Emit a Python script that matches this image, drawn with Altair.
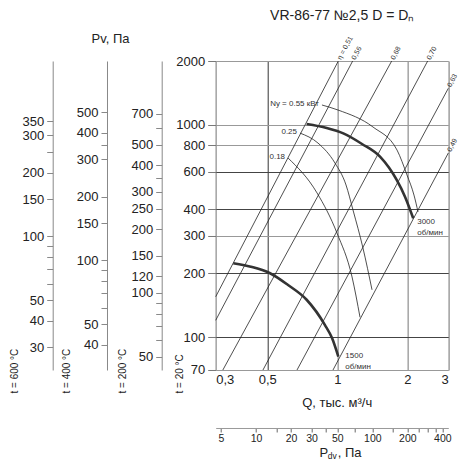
import altair as alt
import pandas as pd

# ---------------- data ----------------
q_ticks = [0.3, 0.5, 1, 2, 3]
p_ticks = [70, 100, 200, 300, 400, 600, 800, 1000, 2000]
pdv_ticks = [5, 10, 15, 20, 30, 40, 50, 70, 100, 150, 200, 250, 300, 350, 400]
pdv_labels = [5, 10, 20, 30, 50, 100, 200, 400]

t200_ticks = [50, 60, 70, 80, 90, 100, 120, 150, 200, 250, 300, 350, 400, 500, 600, 700]
t200_labels = [50, 100, 120, 150, 200, 250, 300, 400, 500, 700]
t400_ticks = [40, 50, 60, 70, 80, 90, 100, 150, 200, 300, 350, 400, 500]
t400_labels = [40, 50, 100, 150, 200, 300, 400, 500]
t600_ticks = [30, 40, 50, 60, 70, 80, 90, 100, 150, 200, 250, 300, 350]
t600_labels = [30, 40, 50, 100, 150, 200, 300, 350]

# constant-efficiency lines (start / end points)
eta_names = ["η = 0,51", "0,56", "0,68", "0,70", "0,63", "0,49"]
eta_q0 = [0.30, 0.30, 0.322, 0.479, 0.671, 0.958]
eta_p0 = [155, 120, 70, 70, 70, 70]
eta_q1 = [1.01, 1.164, 1.713, 2.446, 3.0, 3.0]
eta_p1 = [2000, 2000, 2000, 2000, 1487, 737]

# fan curves
q3000 = [0.738, 0.90, 1.061, 1.277, 1.526, 1.80, 1.954, 2.12]
p3000 = [1010, 967, 912, 813, 708, 550, 459, 363]
q1500 = [0.357, 0.43, 0.514, 0.614, 0.738, 0.885, 0.949, 1.01]
p1500 = [223, 214, 200, 176, 150, 114, 99, 81]

# power arcs
arc055_q = [0.859, 1.007, 1.424, 1.806, 1.993, 2.136, 2.223]
arc055_p = [1241, 1175, 977, 761, 581, 467, 389]
arc025_q = [0.691, 0.826, 0.977, 1.09, 1.168, 1.289, 1.41]
arc025_p = [915, 821, 661, 521, 397, 263, 167]
arc018_q = [0.614, 0.818, 0.997, 1.157, 1.252]
arc018_p = [698, 478, 309, 192, 124]
arc_names = ["Nу = 0.55 кВт", "0.25", "0.18"]

FONT = "Liberation Sans"
INK = "#222"

# ---------------- tables ----------------
eta_rows = []
for i, n in enumerate(eta_names):
    eta_rows.append({"id": i, "q": eta_q0[i], "p": eta_p0[i]})
    eta_rows.append({"id": i, "q": eta_q1[i], "p": eta_p1[i]})
eta_df = pd.DataFrame(eta_rows)
eta_lab = pd.DataFrame({"q": eta_q1, "p": eta_p1, "label": eta_names})

arc_rows = []
for i, (qs, ps) in enumerate([(arc055_q, arc055_p), (arc025_q, arc025_p), (arc018_q, arc018_p)]):
    for q, p in zip(qs, ps):
        arc_rows.append({"id": i, "q": q, "p": p})
arc_df = pd.DataFrame(arc_rows)
arc_lab = pd.DataFrame({"q": [arc055_q[0], arc025_q[0], arc018_q[0]],
                        "p": [arc055_p[0], arc025_p[0], arc018_p[0]],
                        "label": arc_names})

fan_rows = [{"id": "3000", "q": q, "p": p} for q, p in zip(q3000, p3000)] + \
           [{"id": "1500", "q": q, "p": p} for q, p in zip(q1500, p1500)]
fan_df = pd.DataFrame(fan_rows)
lab3000 = pd.DataFrame({"q": [q3000[-1]], "p": [p3000[-1]], "label": ["3000\nоб/мин"]})
lab1500 = pd.DataFrame({"q": [q1500[-1]], "p": [p1500[-1]], "label": ["1500\nоб/мин"]})

# ---------------- scales / axes ----------------
qscale = alt.Scale(type="log", domain=[0.3, 3], nice=False, zero=False)
pscale = alt.Scale(type="log", domain=[70, 2000], nice=False, zero=False)

qaxis = alt.Axis(
    values=q_ticks, grid=True,
    gridColor={"condition": {"test": "datum.value === 0.5", "value": "#333"}, "value": "#aaa"},
    gridWidth={"condition": {"test": "datum.value === 0.5", "value": 1}, "value": 1.6},
    domain=False, ticks=False,
    labelExpr="replace(format(datum.value, '~g'), '.', ',')",
    labelFontSize=13, labelColor=INK, labelPadding=4, labelFont=FONT,
    title="Q, тыс. м³/ч", titleX=121, titleY=33, titleAlign="center", titleBaseline="middle",
    titleFontSize=13, titleFontWeight="normal", titleColor=INK, titleFont=FONT,
)
paxis = alt.Axis(
    orient="left", values=p_ticks, format="d", grid=True,
    gridColor={"condition": {"test": "indexof([70, 300, 800, 1000, 2000], datum.value) >= 0", "value": "#999"}, "value": "#444"},
    gridWidth=1.1,
    domain=False, tickColor="#777", tickSize=8, labelPadding=3,
    labelFontSize=13, labelColor=INK, labelFont=FONT,
    title="t = 20 °C", titleAngle=270, titleX=-36, titleY=332, titleAlign="left", titleBaseline="middle",
    titleFontSize=10, titleFontWeight="normal", titleColor=INK, titleFont=FONT,
)
X = alt.X("q:Q", scale=qscale, axis=qaxis)
Y = alt.Y("p:Q", scale=pscale, axis=paxis)

eta_lines = alt.Chart(eta_df).mark_line(color=INK, strokeWidth=0.8).encode(x=X, y=Y, detail="id:N")
eta_text = alt.Chart(eta_lab).mark_text(angle=298, align="left", baseline="middle", dx=2,
                                        fontSize=7, color="#333", font=FONT).encode(x=X, y=Y, text="label:N")
arcs = alt.Chart(arc_df).mark_line(color=INK, strokeWidth=0.8, interpolate="monotone").encode(
    x=X, y=Y, detail="id:N")
arc_text = alt.Chart(arc_lab).mark_text(align="right", baseline="middle", dx=-3, dy=-1,
                                        fontSize=8, color="#333", font=FONT).encode(x=X, y=Y, text="label:N")
fans = alt.Chart(fan_df).mark_line(color="#333", strokeWidth=2.6, interpolate="monotone").encode(
    x=X, y=Y, detail="id:N")
t3000 = alt.Chart(lab3000).mark_text(align="left", baseline="top", dx=4, dy=0, lineBreak="\n",
                                     lineHeight=11, fontSize=8, color="#333", font=FONT).encode(x=X, y=Y, text="label:N")
t1500 = alt.Chart(lab1500).mark_text(align="left", baseline="top", dx=7, dy=-5, lineBreak="\n",
                                     lineHeight=11, fontSize=8, color="#333", font=FONT).encode(x=X, y=Y, text="label:N")

main = alt.layer(eta_lines, eta_text, arcs, arc_text, fans, t3000, t1500)


def temp_axis(t, ticks, labels, offset, title_x):
    factor = (273 + 20) / (273 + t)
    dom = [70 * factor, 2000 * factor]
    df = pd.DataFrame({"v": dom})
    expr = f"indexof({labels}, datum.value) >= 0 ? format(datum.value, 'd') : ''"
    return alt.Chart(df).mark_point(opacity=0).encode(
        y=alt.Y("v:Q", scale=alt.Scale(type="log", domain=dom, nice=False, zero=False),
                axis=alt.Axis(orient="left", offset=offset, values=ticks, labelExpr=expr, grid=False,
                              domain=True, domainColor="#888", tickColor="#888", tickSize=6,
                              labelPadding=3, labelFontSize=13, labelColor=INK, labelFont=FONT,
                              title=f"t = {t} °C", titleAngle=270, titleX=title_x, titleY=332,
                              titleAlign="left", titleBaseline="middle", titleFontSize=10,
                              titleFontWeight="normal", titleColor=INK, titleFont=FONT)))


ax200 = temp_axis(200, t200_ticks, t200_labels, 54, -39)
ax400 = temp_axis(400, t400_ticks, t400_labels, 108.7, -40)
ax600 = temp_axis(600, t600_ticks, t600_labels, 163, -38)

ax_pv = alt.Chart(pd.DataFrame({"w": [0, 1]})).mark_point(opacity=0).encode(
    y=alt.Y("w:Q", axis=alt.Axis(orient="left", offset=108.7, labels=False, ticks=False, domain=False,
                                 grid=False, title="Pv, Па", titleAngle=0, titleX=3, titleY=-23,
                                 titleAlign="center", titleBaseline="middle", titleFontSize=13,
                                 titleFontWeight="normal", titleColor=INK, titleFont=FONT)))

pdv_dom = [50 * 0.3 ** 2, 50 * 3 ** 2]
pdv_expr = f"indexof({pdv_labels}, datum.value) >= 0 ? format(datum.value, 'd') : ''"
ax_pdv = alt.Chart(pd.DataFrame({"pdv": pdv_dom})).mark_point(opacity=0).encode(
    x=alt.X("pdv:Q", scale=alt.Scale(type="log", domain=pdv_dom, nice=False, zero=False),
            axis=alt.Axis(orient="bottom", offset=58, values=pdv_ticks, labelExpr=pdv_expr, grid=False,
                          domain=True, domainColor="#999", tickColor="#666", tickSize=4, labelPadding=2,
                          labelFontSize=10.5, labelColor=INK, labelFont=FONT,
                          title="P", titleX=103.3, titleY=25, titleAlign="left", titleBaseline="middle",
                          titleFontSize=13, titleFontWeight="normal", titleColor=INK, titleFont=FONT)))


def title_piece(name, text, orient, offset, tx, ty, size, align="left"):
    return alt.Chart(pd.DataFrame({name: [0, 1]})).mark_point(opacity=0).encode(
        x=alt.X(f"{name}:Q", axis=alt.Axis(orient=orient, offset=offset, labels=False, ticks=False,
                                           domain=False, grid=False, title=text, titleX=tx, titleY=ty,
                                           titleAlign=align, titleBaseline="middle", titleFontSize=size,
                                           titleFontWeight="normal", titleColor=INK, titleFont=FONT)))


ax_dv = title_piece("s1", "dv", "bottom", 58, 111.5, 27.5, 8.5)
ax_pa = title_piece("s2", ", Па", "bottom", 58, 121.5, 25, 13)
ax_title = title_piece("s3", "VR-86-77 №2,5 D = Dₙ", "top", 0, 126, -46, 14, "center")

chart = alt.layer(main, ax200, ax400, ax600, ax_pv, ax_pdv, ax_dv, ax_pa, ax_title).resolve_scale(
    x="independent", y="independent"
).properties(
    width=232.6, height=309,
    autosize=alt.AutoSizeParams(type="none"),
    padding={"left": 207.7, "top": 53, "right": 14, "bottom": 91},
).configure_view(stroke="transparent").configure(font=FONT)

chart.save("out.html", embed_options={"renderer": "svg", "actions": False})
